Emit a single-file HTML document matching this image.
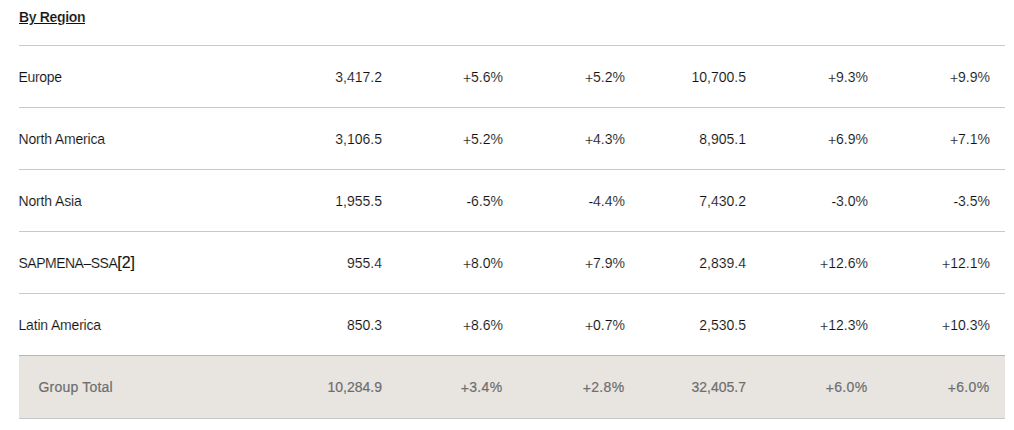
<!DOCTYPE html>
<html><head><meta charset="utf-8">
<style>
html,body{margin:0;padding:0;background:#fff;}
body{font-family:"Liberation Sans",sans-serif;color:#111;width:1014px;height:430px;overflow:hidden;position:relative;}
.title{position:absolute;left:19px;top:9px;font-size:14px;line-height:16px;font-weight:bold;color:#111;letter-spacing:-0.35px;-webkit-text-stroke:0.2px #fff;}
.ul{position:absolute;top:23px;height:1px;background:#111;}
.line{position:absolute;left:19px;width:986px;height:1px;background:#c9c9c9;}
.row{position:absolute;left:19px;width:986px;height:61px;}
.row span{position:absolute;top:23px;font-size:14px;line-height:16px;white-space:nowrap;-webkit-text-stroke:0.12px #fff;}
.row span span{position:static;}
.s{font-style:normal;position:relative;top:1px;}
.lab{left:-0.5px;}
.c1{right:623px}.c2{right:502px}.c3{right:380px}.c4{right:259px}.c5{right:137px}.c6{right:15px}
.total{background:#e8e5e1;height:62px;}
.total span{color:#6e6e6e;-webkit-text-stroke:0.2px #6e6e6e;}
.total .p{letter-spacing:0.3px;margin-right:0.6px;}
.total .lab{left:19.5px;letter-spacing:0.2px;}
.row .ref{font-size:16px;-webkit-text-stroke:0.15px #222;}
</style></head><body>
<div class="title">By Region</div><div class="ul" style="left:19px;width:9px"></div><div class="ul" style="left:34px;width:23px"></div><div class="ul" style="left:66px;width:19px"></div>
<div class="line" style="top:45px"></div>
<div class="row" style="top:46px"><span class="lab" style="letter-spacing:-0.33px">Europe</span><span class="c1">3,417.2</span><span class="c2"><i class="s">+</i>5.6%</span><span class="c3"><i class="s">+</i>5.2%</span><span class="c4">10,700.5</span><span class="c5"><i class="s">+</i>9.3%</span><span class="c6"><i class="s">+</i>9.9%</span></div>
<div class="line" style="top:107px"></div>
<div class="row" style="top:108px"><span class="lab" style="letter-spacing:-0.18px">North America</span><span class="c1">3,106.5</span><span class="c2"><i class="s">+</i>5.2%</span><span class="c3"><i class="s">+</i>4.3%</span><span class="c4">8,905.1</span><span class="c5"><i class="s">+</i>6.9%</span><span class="c6"><i class="s">+</i>7.1%</span></div>
<div class="line" style="top:169px"></div>
<div class="row" style="top:170px"><span class="lab" style="letter-spacing:-0.15px">North Asia</span><span class="c1">1,955.5</span><span class="c2"><i class="s">-</i>6.5%</span><span class="c3"><i class="s">-</i>4.4%</span><span class="c4">7,430.2</span><span class="c5"><i class="s">-</i>3.0%</span><span class="c6"><i class="s">-</i>3.5%</span></div>
<div class="line" style="top:231px"></div>
<div class="row" style="top:232px"><span class="lab"><span style="letter-spacing:-0.5px">SAPMENA&ndash;SSA</span><span class="ref">[2]</span></span><span class="c1">955.4</span><span class="c2"><i class="s">+</i>8.0%</span><span class="c3"><i class="s">+</i>7.9%</span><span class="c4">2,839.4</span><span class="c5"><i class="s">+</i>12.6%</span><span class="c6"><i class="s">+</i>12.1%</span></div>
<div class="line" style="top:293px"></div>
<div class="row" style="top:294px"><span class="lab" style="letter-spacing:-0.18px">Latin America</span><span class="c1">850.3</span><span class="c2"><i class="s">+</i>8.6%</span><span class="c3"><i class="s">+</i>0.7%</span><span class="c4">2,530.5</span><span class="c5"><i class="s">+</i>12.3%</span><span class="c6"><i class="s">+</i>10.3%</span></div>
<div class="line" style="top:355px;background:#b9b6b2"></div>
<div class="row total" style="top:356px"><span class="lab">Group Total</span><span class="c1">10,284.9</span><span class="c2 p"><i class="s">+</i>3.4%</span><span class="c3 p"><i class="s">+</i>2.8%</span><span class="c4">32,405.7</span><span class="c5 p"><i class="s">+</i>6.0%</span><span class="c6 p"><i class="s">+</i>6.0%</span></div>
<div class="line" style="top:418px"></div>
</body></html>
